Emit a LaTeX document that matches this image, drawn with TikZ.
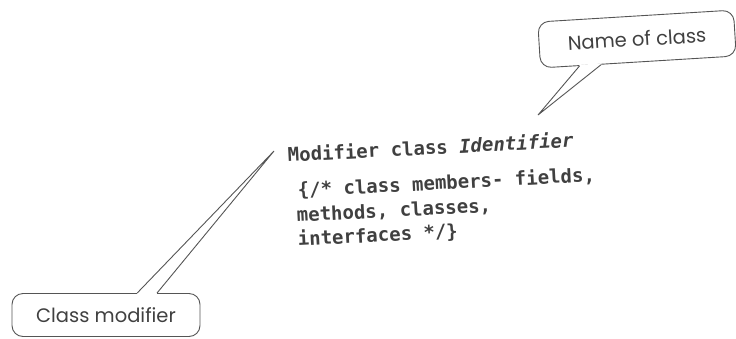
\documentclass[tikz,border=0pt]{standalone}
\usepackage{fontspec}
\setmainfont{Poppins}
\setmonofont{DejaVu Sans Mono}
\usetikzlibrary{calc}
\definecolor{ink}{HTML}{404040}
\definecolor{lineink}{HTML}{555555}
\tikzset{
  callout/.style={draw=lineink, line width=0.9pt, rounded corners=11pt, text=ink,
    font=\fontsize{19.5}{22}\selectfont, inner sep=0pt},
  pointer/.style={draw=lineink, line width=0.9pt, line join=miter},
  gapcover/.style={draw=white, line width=2.5pt},
  code/.style={text=ink, font=\ttfamily\bfseries\fontsize{19}{24}\selectfont,
    inner sep=0pt, anchor=base west, rotate=3}
}
\begin{document}
\begin{tikzpicture}[x=1pt,y=-1pt]
\useasboundingbox (0,0) rectangle (736,338);
% code text
\node[code] (decl) at (288,162) {Modifier class \textit{Identifier}};
\node[code] (body1) at (298,197) {\{/* class members- fields,};
\node[code] (body2) at (297,222) {methods, classes,};
\node[code] (body3) at (298,246) {interfaces */\}};
% name of class callout
\node[callout, rotate=3.5, minimum width=196pt, minimum height=46pt] (nc) at (637,39) {Name of class};
\coordinate (nctip) at (538,115);
\coordinate (ncbl) at ($(nc.south west)!0.20!(nc.south east)$);
\coordinate (ncbr) at ($(nc.south west)!0.31!(nc.south east)$);
\draw[gapcover] (ncbl) -- (ncbr);
\draw[pointer] (ncbl) -- (nctip) -- (ncbr);
% class modifier callout
\node[callout, minimum width=188pt, minimum height=43pt] (cm) at (106,315) {Class modifier};
\coordinate (cmtip) at (274,151);
\coordinate (cmbl) at ($(cm.north west)!0.665!(cm.north east)$);
\coordinate (cmbr) at ($(cm.north west)!0.77!(cm.north east)$);
\draw[gapcover] (cmbl) -- (cmbr);
\draw[pointer] (cmbl) -- (cmtip) -- (cmbr);
\end{tikzpicture}
\end{document}
